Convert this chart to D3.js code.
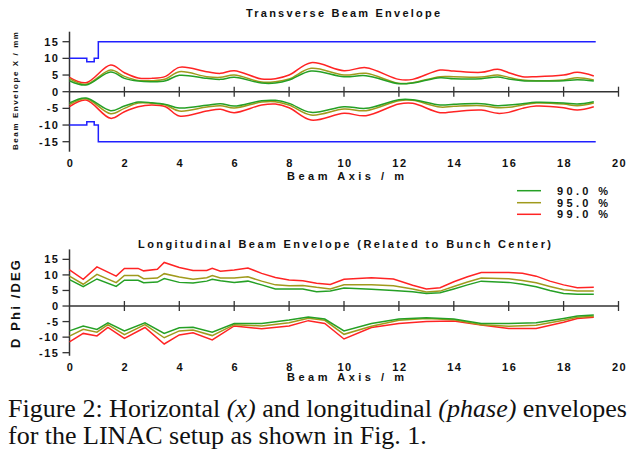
<!DOCTYPE html>
<html>
<head>
<meta charset="utf-8">
<script src="https://cdn.jsdelivr.net/npm/d3@7"></script>
<style>
  body { margin: 0; background: #fff; }
  svg text { font-family: "Liberation Sans", Arial, sans-serif; font-weight: bold; fill: #111; }
  svg text.caption { font-family: "Liberation Serif", "Times New Roman", serif; font-weight: normal; }
</style>
</head>
<body>
<svg id="chart" width="630" height="458"></svg>
<script>
// ---- transverse envelope (mm) ----
const transX = [0, 0.6, 1.5, 2, 2.5, 3, 3.5, 4, 5, 5.5, 6, 7, 7.5, 8, 8.8, 10, 10.8, 12, 12.5, 13.5, 14, 15, 15.6, 16, 16.5, 17, 18, 18.5, 19.1];
const trans99Up = [4.3, 2.7, 8.0, 5.7, 4.1, 4.0, 4.6, 7.3, 6.0, 5.5, 6.3, 3.8, 3.9, 5.0, 8.7, 6.3, 7.2, 3.7, 3.7, 6.5, 6.2, 5.8, 6.7, 5.7, 4.5, 4.5, 5.0, 5.8, 4.7];
const trans95Up = [3.9, 2.2, 6.5, 4.6, 3.4, 3.3, 3.8, 6.0, 4.5, 4.3, 5.0, 2.9, 3.0, 3.8, 7.0, 5.0, 5.5, 2.5, 2.7, 4.5, 4.5, 4.4, 5.0, 4.3, 3.5, 3.3, 3.5, 4.2, 3.5];
const trans90Up = [3.3, 2.0, 5.9, 4.0, 3.2, 3.0, 3.3, 4.9, 4.0, 3.7, 4.3, 2.6, 2.6, 3.5, 6.2, 4.5, 4.8, 2.4, 2.6, 4.2, 3.9, 3.9, 4.4, 3.8, 3.3, 3.2, 3.3, 3.6, 3.2];
const trans99Lo = [-4.5, -2.5, -8.0, -6.0, -4.5, -4.0, -4.5, -7.3, -5.8, -5.3, -6.3, -4.0, -3.7, -4.8, -8.5, -6.5, -7.2, -3.7, -3.5, -6.3, -6.0, -5.5, -6.5, -6.2, -5.0, -4.3, -4.8, -5.5, -4.5];
const trans95Lo = [-3.9, -2.1, -6.6, -5.0, -3.4, -3.5, -4.0, -5.8, -4.6, -4.2, -4.9, -3.1, -3.0, -4.0, -7.0, -5.2, -5.7, -2.7, -2.6, -4.6, -4.4, -4.2, -4.8, -4.7, -4.0, -3.4, -3.7, -4.2, -3.4];
const trans90Lo = [-3.4, -1.9, -5.7, -4.3, -3.1, -3.3, -3.8, -4.9, -4.1, -3.6, -4.3, -2.7, -2.6, -3.5, -6.2, -4.5, -5.0, -2.4, -2.4, -4.0, -3.8, -3.6, -4.2, -4.0, -3.6, -3.2, -3.4, -3.7, -3.0];

// aperture (step after)
const apertureX = [0, 0.63, 0.9, 1.05, 19.17];
const apertureY = [10, 9, 10, 15, 15];

// ---- longitudinal envelope (deg) ----
const longXUp = [0, 0.5, 1.0, 1.7, 2.0, 2.5, 2.7, 3.2, 3.45, 4, 4.5, 5, 5.2, 5.5, 6, 6.5, 7, 7.5, 8, 8.5, 9, 9.5, 10, 11, 11.8, 12.5, 13, 13.5, 14, 14.5, 15, 16, 16.5, 17, 17.5, 18, 18.5, 19.1];
const long99Up = [11.6, 8.6, 12.6, 9.6, 12.1, 12.1, 11.3, 11.8, 14.0, 12.4, 11.4, 11.4, 12.1, 11.2, 11.6, 12.2, 10.5, 9.2, 8.4, 8.1, 7.3, 6.9, 8.6, 9.1, 8.7, 6.7, 5.5, 5.9, 7.8, 9.4, 10.8, 10.8, 10.5, 9.6, 8.0, 6.8, 5.9, 6.0];
const long95Up = [9.6, 7.0, 10.2, 7.5, 9.8, 9.8, 8.8, 9.0, 10.4, 9.3, 8.6, 9.1, 9.8, 9.0, 9.0, 9.4, 8.0, 6.8, 6.5, 6.6, 6.0, 5.5, 6.8, 6.8, 6.5, 5.5, 4.5, 4.8, 6.3, 7.7, 9.0, 8.8, 8.2, 7.5, 6.3, 5.2, 4.8, 4.8];
const long90Up = [8.5, 6.2, 8.7, 6.3, 8.3, 8.3, 7.5, 7.7, 8.8, 7.6, 7.4, 8.0, 8.6, 8.1, 7.6, 8.0, 6.8, 5.5, 5.5, 5.5, 4.6, 4.8, 5.8, 5.4, 5.0, 4.6, 4.0, 4.3, 5.5, 6.8, 8.0, 7.6, 7.0, 6.2, 5.0, 4.0, 3.8, 3.8];
const longXLo = [0, 0.5, 1.0, 1.4, 2.0, 2.75, 3.45, 4, 4.5, 5.2, 6, 7, 8, 8.7, 9.3, 10, 11, 12, 13, 14, 15, 16, 17, 18, 18.5, 19.1];
const long99Lo = [-11.5, -8.8, -9.6, -6.9, -10.4, -6.9, -12.2, -9.3, -8.6, -10.9, -6.4, -7.3, -6.4, -4.7, -5.6, -10.6, -6.9, -5.6, -5.0, -4.8, -6.1, -7.2, -7.2, -5.2, -4.0, -3.6];
const long95Lo = [-9.7, -7.5, -8.4, -6.0, -9.2, -6.0, -10.2, -8.0, -7.7, -9.5, -6.0, -6.4, -5.4, -3.9, -4.6, -9.1, -6.5, -4.6, -4.0, -4.4, -6.0, -6.5, -6.2, -4.6, -3.6, -3.3];
const long90Lo = [-8.0, -6.4, -7.5, -5.4, -8.0, -5.4, -8.8, -7.0, -6.8, -8.4, -5.6, -5.6, -4.5, -3.5, -4.2, -8.0, -5.6, -4.2, -3.8, -4.2, -5.6, -5.6, -5.4, -4.0, -3.2, -2.9];

const xTicks = [0, 2, 4, 6, 8, 10, 12, 14, 16, 18, 20];
const yTicks = [15, 10, 5, 0, -5, -10, -15];
const legendLabels = ["90.0  %", "95.0  %", "99.0  %"];

const colors = { c90: '#25a025', c95: '#a09a1c', c99: '#ff2424', aperture: '#2020ff' };
const axisColor = '#333';

const svg = d3.select('#chart');

const x = d3.scaleLinear().domain([0, 20]).range([69.5, 618.5]);

// Function to draw one panel (axes + zero line)
function drawPanel(y) {
    const g = svg.append('g');
    const [yTop, yBot] = [y.range()[1], y.range()[0]];

    // y axis line + ticks to the left
    g.append('line')
        .attr('x1', x(0)).attr('x2', x(0))
        .attr('y1', yTop).attr('y2', yBot)
        .attr('stroke', axisColor).attr('stroke-width', 1.5);
    g.selectAll('.yt').data(yTicks).enter().append('line')
        .attr('x1', x(0) - 7).attr('x2', x(0))
        .attr('y1', d => y(d)).attr('y2', d => y(d))
        .attr('stroke', axisColor).attr('stroke-width', 1.3);
    g.selectAll('.yl').data(yTicks).enter().append('text')
        .attr('x', 59.5).attr('y', d => y(d))
        .attr('dy', '0.36em')
        .attr('text-anchor', 'end')
        .attr('font-size', 11)
        .attr('letter-spacing', 1.5)
        .text(d => d);

    // zero line with crossing ticks
    g.append('line')
        .attr('x1', x(0)).attr('x2', x(20))
        .attr('y1', y(0)).attr('y2', y(0))
        .attr('stroke', axisColor).attr('stroke-width', 1.5);
    g.selectAll('.xt').data(xTicks.slice(1)).enter().append('line')
        .attr('x1', d => x(d)).attr('x2', d => x(d))
        .attr('y1', y(0) - 5).attr('y2', y(0) + 5)
        .attr('stroke', axisColor).attr('stroke-width', 1.3);
    return g;
}

function xLabels(yPos, titleY) {
    svg.append('g').selectAll('text').data(xTicks).enter().append('text')
        .attr('x', d => x(d) + 1).attr('y', yPos)
        .attr('dy', '0.36em')
        .attr('text-anchor', 'middle')
        .attr('font-size', 11)
        .attr('letter-spacing', 1.5)
        .text(d => d);
    svg.append('text')
        .attr('x', 287).attr('y', titleY)
        .attr('dy', '0.36em')
        .attr('font-size', 11)
        .attr('textLength', 117).attr('lengthAdjust', 'spacing')
        .text('Beam Axis  / m');
}

function drawSeries(xs, ys, color, curve) {
    const line = d3.line()
        .x((d, i) => x(xs[i]))
        .y(d => curve.y(d))
        .curve(curve.c);
    svg.append('path')
        .datum(ys)
        .attr('d', line)
        .attr('fill', 'none')
        .attr('stroke', color)
        .attr('stroke-width', 1.5);
}

// ---------- top panel ----------
const yT = d3.scaleLinear().domain([-18, 18]).range([151.7, 31.7]);
drawPanel(yT);
xLabels(163.5, 176.5);

const apLine = d3.line().x((d, i) => x(apertureX[i])).curve(d3.curveStepAfter);
svg.append('path').datum(apertureY)
    .attr('d', apLine.y(d => yT(d)))
    .attr('fill', 'none').attr('stroke', colors.aperture).attr('stroke-width', 1.5);
svg.append('path').datum(apertureY)
    .attr('d', apLine.y(d => yT(-d)))
    .attr('fill', 'none').attr('stroke', colors.aperture).attr('stroke-width', 1.5);

const smooth = { y: yT, c: d3.curveCatmullRom.alpha(0.5) };
drawSeries(transX, trans99Up, colors.c99, smooth);
drawSeries(transX, trans99Lo, colors.c99, smooth);
drawSeries(transX, trans95Up, colors.c95, smooth);
drawSeries(transX, trans95Lo, colors.c95, smooth);
drawSeries(transX, trans90Up, colors.c90, smooth);
drawSeries(transX, trans90Lo, colors.c90, smooth);

svg.append('text')
    .attr('x', 246).attr('y', 12.7).attr('dy', '0.36em')
    .attr('font-size', 11)
    .attr('textLength', 194).attr('lengthAdjust', 'spacing')
    .text('Transverse Beam Envelope');

svg.append('text')
    .attr('transform', 'translate(18,150) rotate(-90)')
    .attr('font-size', 8)
    .attr('textLength', 118).attr('lengthAdjust', 'spacing')
    .text('Beam Envelope X  / mm');

// ---------- legend ----------
const legendColors = [colors.c90, colors.c95, colors.c99];
const legendY = [190.7, 202.7, 214.3];
const lg = svg.append('g');
legendLabels.forEach((lab, i) => {
    lg.append('line')
        .attr('x1', 517).attr('x2', 541)
        .attr('y1', legendY[i]).attr('y2', legendY[i])
        .attr('stroke', legendColors[i]).attr('stroke-width', 1.5);
    lg.append('text')
        .attr('x', 557).attr('y', legendY[i]).attr('dy', '0.36em')
        .attr('font-size', 11)
        .attr('textLength', 51).attr('lengthAdjust', 'spacing')
        .text(lab);
});

// ---------- bottom panel ----------
const yB = d3.scaleLinear().domain([-16, 18.2]).range([355.8, 249.4]);
drawPanel(yB);
xLabels(367, 377.5);

const straight = { y: yB, c: d3.curveLinear };
drawSeries(longXUp, long99Up, colors.c99, straight);
drawSeries(longXLo, long99Lo, colors.c99, straight);
drawSeries(longXUp, long95Up, colors.c95, straight);
drawSeries(longXLo, long95Lo, colors.c95, straight);
drawSeries(longXUp, long90Up, colors.c90, straight);
drawSeries(longXLo, long90Lo, colors.c90, straight);

svg.append('text')
    .attr('x', 138).attr('y', 244).attr('dy', '0.36em')
    .attr('font-size', 11)
    .attr('textLength', 413).attr('lengthAdjust', 'spacing')
    .text('Longitudinal Beam Envelope (Related to Bunch Center)');

svg.append('text')
    .attr('transform', 'translate(19.5,348) rotate(-90)')
    .attr('font-size', 13)
    .attr('textLength', 88).attr('lengthAdjust', 'spacing')
    .text('D Phi /DEG');

// ---------- caption ----------
const cap = svg.append('text').attr('class', 'caption').attr('font-size', 26);
const l1 = cap.append('tspan').attr('x', 8).attr('y', 417);
l1.append('tspan').text('Figure 2: Horizontal ');
l1.append('tspan').attr('font-style', 'italic').text('(x)');
l1.append('tspan').text(' and longitudinal ');
l1.append('tspan').attr('font-style', 'italic').text('(phase)');
l1.append('tspan').text(' envelopes');
cap.append('tspan').attr('x', 8).attr('y', 444).text('for the LINAC setup as shown in Fig. 1.');
</script>
</body>
</html>
